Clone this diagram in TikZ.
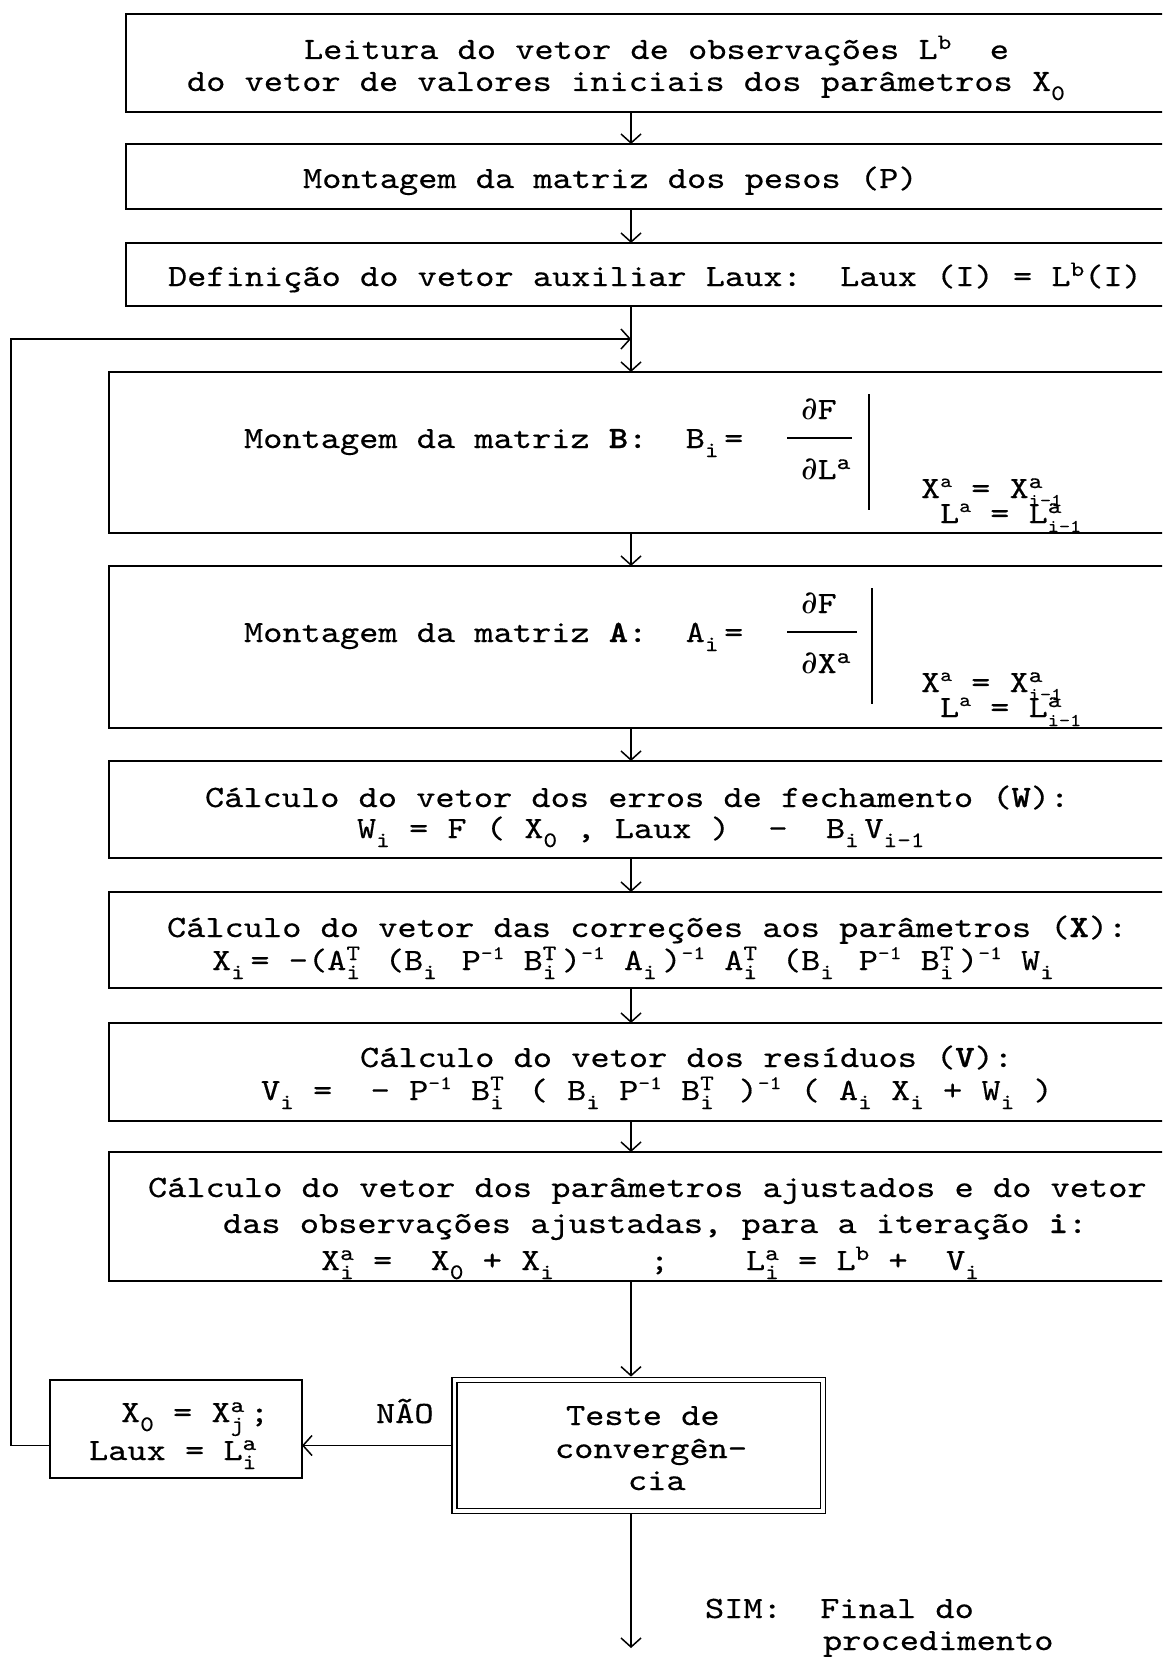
\documentclass[tikz,border=0pt]{standalone}
\usepackage{fontspec}
\setmainfont{lmmono10-regular.otf}[FakeStretch=1.18, UprightFeatures={FakeBold=0.4}, BoldFont=lmmonolt10-bold.otf, BoldFeatures={FakeBold=0.8}]
\newfontfamily\pdfont{DejaVu Serif}
\usetikzlibrary{arrows.meta}
\newcommand\tsz{\fontsize{31}{33}\selectfont}
\newcommand\mSupSz{\fontsize{22}{22}\selectfont}
\newcommand\mMinSz{\fontsize{19}{19}\selectfont}
\newcommand\mTinySz{\fontsize{18}{18}\selectfont}
% full-cell and natural-width super/subscripts
\newcommand\mUp[1]{\makebox[19.2pt][l]{\raisebox{10pt}{\mSupSz #1}}}
\newcommand\mUn[1]{\raisebox{10pt}{\mSupSz #1}}
\newcommand\mDn[1]{\makebox[19.2pt][l]{\raisebox{-9pt}{\mSupSz #1}}}
\newcommand\mDnn[1]{\raisebox{-9pt}{\mSupSz #1}}
\newcommand\mUD[2]{\makebox[19.2pt][l]{\rlap{\raisebox{10pt}{\mSupSz #1}}\raisebox{-9pt}{\mSupSz #2}}}
\newcommand\mUDn[2]{\rlap{\raisebox{10pt}{\mSupSz #1}}\raisebox{-9pt}{\mSupSz #2}}
\newcommand\mUi[1]{\raisebox{11pt}{\mMinSz #1}}
\newcommand\mDnat[1]{\raisebox{-9pt}{\mSupSz #1}}
\newcommand\pd{{\pdfont\fontsize{32}{32}\selectfont ∂}}
\tikzset{
  box/.style={draw, line width=1.8pt, rectangle, inner sep=0pt, outer sep=0pt, anchor=north west},
  txt/.style={anchor=base west, inner sep=0pt, outer sep=0pt, font=\tsz},
  flow/.style={line width=1.5pt, -{Straight Barb[length=9pt,width=20pt]}},
  plain/.style={line width=1.5pt},
}
\begin{document}
\begin{tikzpicture}[x=1pt,y=-1pt]
\useasboundingbox (0,0) rectangle (1162,1659);
\clip (0,0) rectangle (1162,1659);
\coordinate (mx) at (631,0);
% top boxes
\node[box, minimum width=1049, minimum height=98] (b1) at (126,14) {};
\node[txt] (t1a) at (304,59) {Leitura do vetor de observações L\mUn{b}~~e};
\node[txt] (t1b) at (187,91) {do vetor de valores iniciais dos parâmetros X\mDn{0}};
\node[box, minimum width=1049, minimum height=65] (b2) at (126,144) {};
\node[txt] (t2) at (303,188) {Montagem da matriz dos pesos (P)};
\node[box, minimum width=1049, minimum height=63] (b3) at (126,243) {};
\node[txt] (t3) at (168,286) {Definição do vetor auxiliar Laux:~~Laux (I) = L\mUn{b}(I)};
% B box
\node[box, minimum width=1066, minimum height=161] (bB) at (109,372) {};
\node[txt] (tB) at (244,448) {Montagem da matriz \textbf{B}:~~B\mDn{i}=};
\node[txt] (tBn) at (801,419) {\pd F};
\node[txt] (tBd) at (801,479) {\pd L\mUp{a}};
\draw[plain] (787,438) -- (852,438);
\draw[plain] (869,394) -- (869,510);
\node[txt] (tBx) at (921,498) {X\mUi{a} = X\rlap{\raisebox{10pt}{\mSupSz a}}\raisebox{-8pt}{\mTinySz i-1}};
\node[txt] (tBl) at (940,523) {L\mUi{a} = L\rlap{\raisebox{10pt}{\mSupSz a}}\raisebox{-9pt}{\mTinySz i-1}};
% A box
\node[box, minimum width=1066, minimum height=162] (bA) at (109,566) {};
\node[txt] (tA) at (244,642) {Montagem da matriz \textbf{A}:~~A\mDn{i}=};
\node[txt] (tAn) at (801,613) {\pd F};
\node[txt] (tAd) at (801,673) {\pd X\mUp{a}};
\draw[plain] (787,632) -- (857,632);
\draw[plain] (872,588) -- (872,704);
\node[txt] (tAx) at (921,692) {X\mUi{a} = X\rlap{\raisebox{10pt}{\mSupSz a}}\raisebox{-8pt}{\mTinySz i-1}};
\node[txt] (tAl) at (940,717) {L\mUi{a} = L\rlap{\raisebox{10pt}{\mSupSz a}}\raisebox{-9pt}{\mTinySz i-1}};
% W box
\node[box, minimum width=1066, minimum height=97] (bW) at (109,761) {};
\node[txt] (tWa) at (205,807) {Cálculo do vetor dos erros de fechamento (\textbf{W}):};
\node[txt] (tWb) at (357,838) {W\mDnn{i} = F ( X\mDnn{0} , Laux )~~-~~B\mDn{i}V\mDnat{i-1}};
% X box
\node[box, minimum width=1066, minimum height=96] (bX) at (109,892) {};
\node[txt] (tXa) at (167,937) {Cálculo do vetor das correções aos parâmetros (\textbf{X}):};
\node[txt] (tXb) at (212,970) {X\mDn{i}= -(A\mUD{T}{i} (B\mDn{i} P\mUi{-1} B\mUD{T}{i})\mUi{-1} A\mDn{i})\mUi{-1} A\mUD{T}{i} (B\mDn{i} P\mUi{-1} B\mUD{T}{i})\mUi{-1} W\mDn{i}};
% V box
\node[box, minimum width=1066, minimum height=98] (bV) at (109,1023) {};
\node[txt] (tVa) at (360,1067) {Cálculo do vetor dos resíduos (\textbf{V}):};
\node[txt] (tVb) at (261,1100) {V\mDnn{i} =~~- P\mUi{-1} B\mUD{T}{i} ( B\mDnn{i} P\mUi{-1} B\mUD{T}{i} )\mUi{-1} ( A\mDnn{i} X\mDnn{i} + W\mDnn{i} )};
% final box
\node[box, minimum width=1066, minimum height=129] (bF) at (109,1152) {};
\node[txt] (tFa) at (148,1197) {Cálculo do vetor dos parâmetros ajustados e do vetor};
\node[txt] (tFb) at (223,1233) {das observações ajustadas, para a iteração \textbf{i}:};
\node[txt] (tFc) at (321,1270) {X\mUDn{a}{i} =~~X\mDnn{0} + X\mDnn{i}~~~~~;~~~~L\mUDn{a}{i} = L\mUn{b} +~~V\mDnn{i}};
% test and update
\node[draw, double, double distance=3.5pt, line width=1.6pt, rectangle, inner sep=0pt, outer sep=3.4pt,
      minimum width=368.5, minimum height=131] (teste) at (638.75,1445.5) {};
\node[txt] (tTa) at (566,1425) {Teste de};
\node[txt] (tTb) at (555,1458) {convergên-};
\node[txt] (tTc) at (628,1490) {cia};
\node[box, minimum width=252, minimum height=98] (lb) at (50,1380) {};
\node[txt] (tLa) at (121,1422) {X\mDnn{0} = X\mUD{a}{j};};
\node[txt] (tLb) at (89,1460) {Laux = L\mUD{a}{i}};
\node[txt] (nao) at (376,1423) {NÃO};
\node[txt] (sim) at (705,1618) {SIM:~~Final do};
\node[txt] (proc) at (823,1650) {procedimento};
% connectors
\coordinate (fbl) at (11,339);
\coordinate (fbj) at (631,339);
\coordinate (endp) at (631,1648);
\draw[flow] (b1.south -| mx) -- (b2.north -| mx);
\draw[flow] (b2.south -| mx) -- (b3.north -| mx);
\draw[flow] (b3.south -| mx) -- (bB.north -| mx);
\draw[flow] (bB.south -| mx) -- (bA.north -| mx);
\draw[flow] (bA.south -| mx) -- (bW.north -| mx);
\draw[flow] (bW.south -| mx) -- (bX.north -| mx);
\draw[flow] (bX.south -| mx) -- (bV.north -| mx);
\draw[flow] (bV.south -| mx) -- (bF.north -| mx);
\draw[flow] (bF.south -| mx) -- (teste.north -| mx);
\draw[flow] (teste.west) -- (teste.west -| lb.east);
\draw[flow] (teste.west -| lb.west) -| (fbl) -- (fbj);
\draw[flow] (teste.south -| mx) -- (endp);
\end{tikzpicture}
\end{document}
